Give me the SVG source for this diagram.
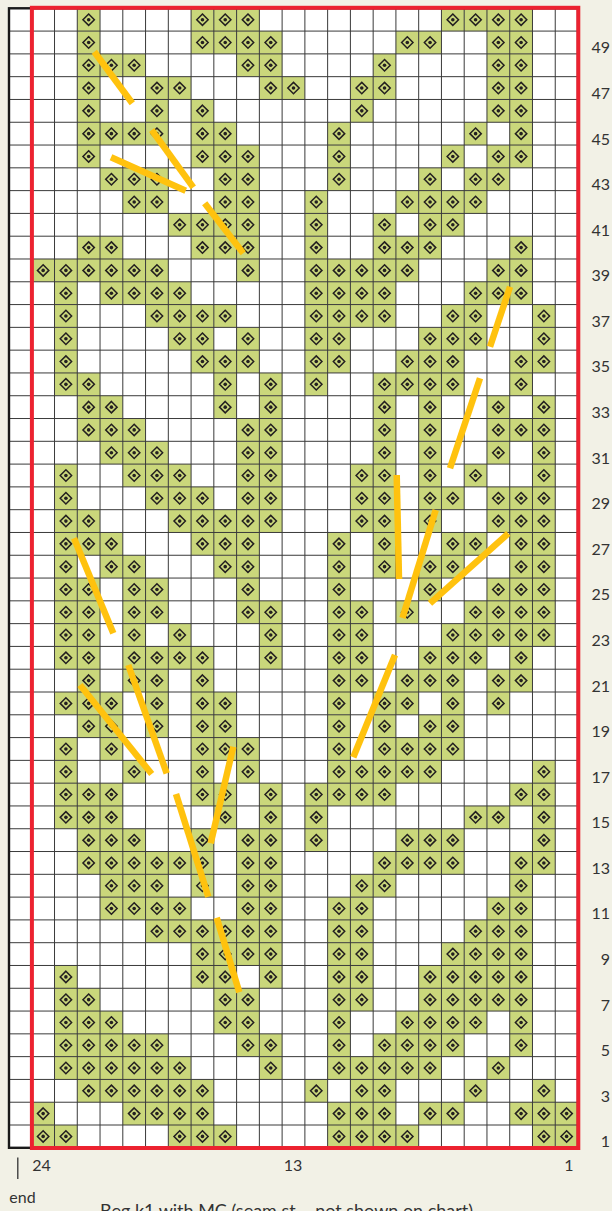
<svg xmlns="http://www.w3.org/2000/svg" width="612" height="1211" viewBox="0 0 612 1211">
<style>
.gl{stroke:#3a3a3a;stroke-width:1;fill:none}
.stem{stroke:#FFC20E;stroke-width:6.5;stroke-linecap:butt}
.lbl{font-family:Lato,"Liberation Sans",sans-serif;font-size:16px;fill:#333}
.r{text-anchor:end}
.c{text-anchor:middle}
</style>
<defs>
<g id="st">
<rect width="22.76" height="22.79" fill="#CAD77B"/>
<path d="M11.38 5.7L17.08 11.4L11.38 17.1L5.68 11.4Z" fill="none" stroke="#231F20" stroke-width="1.5"/>
<circle cx="11.38" cy="11.4" r="1.8" fill="#231F20"/>
</g>
</defs>
<rect width="612" height="1211" fill="#F2F1E6"/>
<rect x="9" y="8.3" width="569" height="1139.5" fill="#fff"/>
<g id="cells">
<g transform="translate(0 8.3)"><use href="#st" x="77.28"/><use href="#st" x="191.08"/><use href="#st" x="213.84"/><use href="#st" x="236.6"/><use href="#st" x="441.44"/><use href="#st" x="464.2"/><use href="#st" x="486.96"/><use href="#st" x="509.72"/></g>
<g transform="translate(0 31.09)"><use href="#st" x="77.28"/><use href="#st" x="191.08"/><use href="#st" x="213.84"/><use href="#st" x="236.6"/><use href="#st" x="259.36"/><use href="#st" x="395.92"/><use href="#st" x="418.68"/><use href="#st" x="486.96"/><use href="#st" x="509.72"/></g>
<g transform="translate(0 53.88)"><use href="#st" x="77.28"/><use href="#st" x="100.04"/><use href="#st" x="122.8"/><use href="#st" x="236.6"/><use href="#st" x="259.36"/><use href="#st" x="373.16"/><use href="#st" x="486.96"/><use href="#st" x="509.72"/></g>
<g transform="translate(0 76.67)"><use href="#st" x="77.28"/><use href="#st" x="145.56"/><use href="#st" x="168.32"/><use href="#st" x="259.36"/><use href="#st" x="282.12"/><use href="#st" x="350.4"/><use href="#st" x="373.16"/><use href="#st" x="486.96"/><use href="#st" x="509.72"/></g>
<g transform="translate(0 99.46)"><use href="#st" x="77.28"/><use href="#st" x="145.56"/><use href="#st" x="191.08"/><use href="#st" x="350.4"/><use href="#st" x="486.96"/><use href="#st" x="509.72"/></g>
<g transform="translate(0 122.25)"><use href="#st" x="77.28"/><use href="#st" x="100.04"/><use href="#st" x="122.8"/><use href="#st" x="145.56"/><use href="#st" x="191.08"/><use href="#st" x="213.84"/><use href="#st" x="327.64"/><use href="#st" x="464.2"/><use href="#st" x="509.72"/></g>
<g transform="translate(0 145.04)"><use href="#st" x="77.28"/><use href="#st" x="191.08"/><use href="#st" x="213.84"/><use href="#st" x="236.6"/><use href="#st" x="327.64"/><use href="#st" x="441.44"/><use href="#st" x="486.96"/><use href="#st" x="509.72"/></g>
<g transform="translate(0 167.83)"><use href="#st" x="100.04"/><use href="#st" x="122.8"/><use href="#st" x="145.56"/><use href="#st" x="213.84"/><use href="#st" x="236.6"/><use href="#st" x="327.64"/><use href="#st" x="418.68"/><use href="#st" x="464.2"/><use href="#st" x="486.96"/></g>
<g transform="translate(0 190.62)"><use href="#st" x="122.8"/><use href="#st" x="145.56"/><use href="#st" x="213.84"/><use href="#st" x="236.6"/><use href="#st" x="304.88"/><use href="#st" x="395.92"/><use href="#st" x="418.68"/><use href="#st" x="441.44"/><use href="#st" x="464.2"/></g>
<g transform="translate(0 213.41)"><use href="#st" x="168.32"/><use href="#st" x="191.08"/><use href="#st" x="213.84"/><use href="#st" x="236.6"/><use href="#st" x="304.88"/><use href="#st" x="373.16"/><use href="#st" x="418.68"/><use href="#st" x="441.44"/></g>
<g transform="translate(0 236.2)"><use href="#st" x="77.28"/><use href="#st" x="100.04"/><use href="#st" x="191.08"/><use href="#st" x="213.84"/><use href="#st" x="236.6"/><use href="#st" x="304.88"/><use href="#st" x="373.16"/><use href="#st" x="395.92"/><use href="#st" x="418.68"/><use href="#st" x="509.72"/></g>
<g transform="translate(0 258.99)"><use href="#st" x="31.76"/><use href="#st" x="54.52"/><use href="#st" x="77.28"/><use href="#st" x="100.04"/><use href="#st" x="122.8"/><use href="#st" x="145.56"/><use href="#st" x="236.6"/><use href="#st" x="304.88"/><use href="#st" x="327.64"/><use href="#st" x="350.4"/><use href="#st" x="373.16"/><use href="#st" x="395.92"/><use href="#st" x="486.96"/><use href="#st" x="509.72"/></g>
<g transform="translate(0 281.78)"><use href="#st" x="54.52"/><use href="#st" x="100.04"/><use href="#st" x="122.8"/><use href="#st" x="145.56"/><use href="#st" x="168.32"/><use href="#st" x="304.88"/><use href="#st" x="327.64"/><use href="#st" x="350.4"/><use href="#st" x="373.16"/><use href="#st" x="464.2"/><use href="#st" x="486.96"/><use href="#st" x="509.72"/></g>
<g transform="translate(0 304.57)"><use href="#st" x="54.52"/><use href="#st" x="145.56"/><use href="#st" x="168.32"/><use href="#st" x="191.08"/><use href="#st" x="213.84"/><use href="#st" x="304.88"/><use href="#st" x="327.64"/><use href="#st" x="350.4"/><use href="#st" x="373.16"/><use href="#st" x="441.44"/><use href="#st" x="464.2"/><use href="#st" x="532.48"/></g>
<g transform="translate(0 327.36)"><use href="#st" x="54.52"/><use href="#st" x="168.32"/><use href="#st" x="191.08"/><use href="#st" x="236.6"/><use href="#st" x="304.88"/><use href="#st" x="327.64"/><use href="#st" x="418.68"/><use href="#st" x="441.44"/><use href="#st" x="464.2"/><use href="#st" x="532.48"/></g>
<g transform="translate(0 350.15)"><use href="#st" x="54.52"/><use href="#st" x="191.08"/><use href="#st" x="213.84"/><use href="#st" x="236.6"/><use href="#st" x="304.88"/><use href="#st" x="327.64"/><use href="#st" x="395.92"/><use href="#st" x="418.68"/><use href="#st" x="441.44"/><use href="#st" x="509.72"/><use href="#st" x="532.48"/></g>
<g transform="translate(0 372.94)"><use href="#st" x="54.52"/><use href="#st" x="77.28"/><use href="#st" x="213.84"/><use href="#st" x="259.36"/><use href="#st" x="304.88"/><use href="#st" x="373.16"/><use href="#st" x="395.92"/><use href="#st" x="418.68"/><use href="#st" x="441.44"/><use href="#st" x="509.72"/></g>
<g transform="translate(0 395.73)"><use href="#st" x="77.28"/><use href="#st" x="100.04"/><use href="#st" x="213.84"/><use href="#st" x="259.36"/><use href="#st" x="373.16"/><use href="#st" x="418.68"/><use href="#st" x="486.96"/><use href="#st" x="532.48"/></g>
<g transform="translate(0 418.52)"><use href="#st" x="77.28"/><use href="#st" x="100.04"/><use href="#st" x="122.8"/><use href="#st" x="236.6"/><use href="#st" x="259.36"/><use href="#st" x="373.16"/><use href="#st" x="418.68"/><use href="#st" x="486.96"/><use href="#st" x="509.72"/><use href="#st" x="532.48"/></g>
<g transform="translate(0 441.31)"><use href="#st" x="100.04"/><use href="#st" x="122.8"/><use href="#st" x="145.56"/><use href="#st" x="236.6"/><use href="#st" x="259.36"/><use href="#st" x="373.16"/><use href="#st" x="418.68"/><use href="#st" x="486.96"/><use href="#st" x="532.48"/></g>
<g transform="translate(0 464.1)"><use href="#st" x="54.52"/><use href="#st" x="122.8"/><use href="#st" x="145.56"/><use href="#st" x="168.32"/><use href="#st" x="236.6"/><use href="#st" x="259.36"/><use href="#st" x="350.4"/><use href="#st" x="373.16"/><use href="#st" x="418.68"/><use href="#st" x="464.2"/><use href="#st" x="532.48"/></g>
<g transform="translate(0 486.89)"><use href="#st" x="54.52"/><use href="#st" x="145.56"/><use href="#st" x="168.32"/><use href="#st" x="191.08"/><use href="#st" x="236.6"/><use href="#st" x="259.36"/><use href="#st" x="350.4"/><use href="#st" x="373.16"/><use href="#st" x="418.68"/><use href="#st" x="441.44"/><use href="#st" x="486.96"/><use href="#st" x="509.72"/><use href="#st" x="532.48"/></g>
<g transform="translate(0 509.68)"><use href="#st" x="54.52"/><use href="#st" x="77.28"/><use href="#st" x="168.32"/><use href="#st" x="191.08"/><use href="#st" x="213.84"/><use href="#st" x="236.6"/><use href="#st" x="259.36"/><use href="#st" x="350.4"/><use href="#st" x="373.16"/><use href="#st" x="418.68"/><use href="#st" x="486.96"/><use href="#st" x="509.72"/><use href="#st" x="532.48"/></g>
<g transform="translate(0 532.47)"><use href="#st" x="54.52"/><use href="#st" x="77.28"/><use href="#st" x="100.04"/><use href="#st" x="191.08"/><use href="#st" x="213.84"/><use href="#st" x="236.6"/><use href="#st" x="327.64"/><use href="#st" x="373.16"/><use href="#st" x="441.44"/><use href="#st" x="464.2"/><use href="#st" x="509.72"/><use href="#st" x="532.48"/></g>
<g transform="translate(0 555.26)"><use href="#st" x="54.52"/><use href="#st" x="100.04"/><use href="#st" x="122.8"/><use href="#st" x="213.84"/><use href="#st" x="236.6"/><use href="#st" x="327.64"/><use href="#st" x="373.16"/><use href="#st" x="418.68"/><use href="#st" x="441.44"/><use href="#st" x="509.72"/><use href="#st" x="532.48"/></g>
<g transform="translate(0 578.05)"><use href="#st" x="54.52"/><use href="#st" x="77.28"/><use href="#st" x="122.8"/><use href="#st" x="145.56"/><use href="#st" x="236.6"/><use href="#st" x="327.64"/><use href="#st" x="418.68"/><use href="#st" x="486.96"/><use href="#st" x="509.72"/><use href="#st" x="532.48"/></g>
<g transform="translate(0 600.84)"><use href="#st" x="54.52"/><use href="#st" x="77.28"/><use href="#st" x="122.8"/><use href="#st" x="145.56"/><use href="#st" x="236.6"/><use href="#st" x="259.36"/><use href="#st" x="327.64"/><use href="#st" x="350.4"/><use href="#st" x="395.92"/><use href="#st" x="464.2"/><use href="#st" x="486.96"/><use href="#st" x="509.72"/><use href="#st" x="532.48"/></g>
<g transform="translate(0 623.63)"><use href="#st" x="54.52"/><use href="#st" x="77.28"/><use href="#st" x="122.8"/><use href="#st" x="168.32"/><use href="#st" x="259.36"/><use href="#st" x="327.64"/><use href="#st" x="350.4"/><use href="#st" x="441.44"/><use href="#st" x="464.2"/><use href="#st" x="486.96"/><use href="#st" x="509.72"/><use href="#st" x="532.48"/></g>
<g transform="translate(0 646.42)"><use href="#st" x="54.52"/><use href="#st" x="77.28"/><use href="#st" x="122.8"/><use href="#st" x="145.56"/><use href="#st" x="168.32"/><use href="#st" x="191.08"/><use href="#st" x="259.36"/><use href="#st" x="327.64"/><use href="#st" x="350.4"/><use href="#st" x="418.68"/><use href="#st" x="441.44"/><use href="#st" x="464.2"/><use href="#st" x="509.72"/></g>
<g transform="translate(0 669.21)"><use href="#st" x="77.28"/><use href="#st" x="122.8"/><use href="#st" x="145.56"/><use href="#st" x="191.08"/><use href="#st" x="327.64"/><use href="#st" x="350.4"/><use href="#st" x="395.92"/><use href="#st" x="418.68"/><use href="#st" x="441.44"/><use href="#st" x="486.96"/><use href="#st" x="509.72"/></g>
<g transform="translate(0 692)"><use href="#st" x="54.52"/><use href="#st" x="77.28"/><use href="#st" x="100.04"/><use href="#st" x="145.56"/><use href="#st" x="191.08"/><use href="#st" x="213.84"/><use href="#st" x="327.64"/><use href="#st" x="373.16"/><use href="#st" x="395.92"/><use href="#st" x="441.44"/><use href="#st" x="486.96"/></g>
<g transform="translate(0 714.79)"><use href="#st" x="77.28"/><use href="#st" x="100.04"/><use href="#st" x="145.56"/><use href="#st" x="191.08"/><use href="#st" x="213.84"/><use href="#st" x="327.64"/><use href="#st" x="373.16"/><use href="#st" x="418.68"/><use href="#st" x="441.44"/></g>
<g transform="translate(0 737.58)"><use href="#st" x="54.52"/><use href="#st" x="100.04"/><use href="#st" x="191.08"/><use href="#st" x="213.84"/><use href="#st" x="236.6"/><use href="#st" x="327.64"/><use href="#st" x="373.16"/><use href="#st" x="395.92"/><use href="#st" x="418.68"/><use href="#st" x="441.44"/></g>
<g transform="translate(0 760.37)"><use href="#st" x="54.52"/><use href="#st" x="122.8"/><use href="#st" x="191.08"/><use href="#st" x="236.6"/><use href="#st" x="327.64"/><use href="#st" x="350.4"/><use href="#st" x="373.16"/><use href="#st" x="395.92"/><use href="#st" x="418.68"/><use href="#st" x="532.48"/></g>
<g transform="translate(0 783.16)"><use href="#st" x="54.52"/><use href="#st" x="77.28"/><use href="#st" x="100.04"/><use href="#st" x="191.08"/><use href="#st" x="213.84"/><use href="#st" x="259.36"/><use href="#st" x="304.88"/><use href="#st" x="327.64"/><use href="#st" x="350.4"/><use href="#st" x="373.16"/><use href="#st" x="509.72"/><use href="#st" x="532.48"/></g>
<g transform="translate(0 805.95)"><use href="#st" x="54.52"/><use href="#st" x="77.28"/><use href="#st" x="100.04"/><use href="#st" x="213.84"/><use href="#st" x="259.36"/><use href="#st" x="304.88"/><use href="#st" x="464.2"/><use href="#st" x="486.96"/><use href="#st" x="532.48"/></g>
<g transform="translate(0 828.74)"><use href="#st" x="77.28"/><use href="#st" x="100.04"/><use href="#st" x="122.8"/><use href="#st" x="191.08"/><use href="#st" x="236.6"/><use href="#st" x="259.36"/><use href="#st" x="304.88"/><use href="#st" x="395.92"/><use href="#st" x="418.68"/><use href="#st" x="441.44"/><use href="#st" x="532.48"/></g>
<g transform="translate(0 851.53)"><use href="#st" x="77.28"/><use href="#st" x="100.04"/><use href="#st" x="122.8"/><use href="#st" x="145.56"/><use href="#st" x="168.32"/><use href="#st" x="191.08"/><use href="#st" x="236.6"/><use href="#st" x="259.36"/><use href="#st" x="373.16"/><use href="#st" x="395.92"/><use href="#st" x="418.68"/><use href="#st" x="441.44"/><use href="#st" x="509.72"/><use href="#st" x="532.48"/></g>
<g transform="translate(0 874.32)"><use href="#st" x="100.04"/><use href="#st" x="122.8"/><use href="#st" x="145.56"/><use href="#st" x="191.08"/><use href="#st" x="236.6"/><use href="#st" x="259.36"/><use href="#st" x="350.4"/><use href="#st" x="373.16"/><use href="#st" x="509.72"/></g>
<g transform="translate(0 897.11)"><use href="#st" x="100.04"/><use href="#st" x="122.8"/><use href="#st" x="145.56"/><use href="#st" x="168.32"/><use href="#st" x="236.6"/><use href="#st" x="259.36"/><use href="#st" x="327.64"/><use href="#st" x="350.4"/><use href="#st" x="486.96"/><use href="#st" x="509.72"/></g>
<g transform="translate(0 919.9)"><use href="#st" x="145.56"/><use href="#st" x="168.32"/><use href="#st" x="191.08"/><use href="#st" x="213.84"/><use href="#st" x="236.6"/><use href="#st" x="259.36"/><use href="#st" x="327.64"/><use href="#st" x="350.4"/><use href="#st" x="464.2"/><use href="#st" x="486.96"/><use href="#st" x="509.72"/></g>
<g transform="translate(0 942.69)"><use href="#st" x="191.08"/><use href="#st" x="213.84"/><use href="#st" x="236.6"/><use href="#st" x="259.36"/><use href="#st" x="327.64"/><use href="#st" x="350.4"/><use href="#st" x="441.44"/><use href="#st" x="464.2"/><use href="#st" x="486.96"/><use href="#st" x="509.72"/></g>
<g transform="translate(0 965.48)"><use href="#st" x="54.52"/><use href="#st" x="191.08"/><use href="#st" x="213.84"/><use href="#st" x="259.36"/><use href="#st" x="327.64"/><use href="#st" x="350.4"/><use href="#st" x="418.68"/><use href="#st" x="441.44"/><use href="#st" x="464.2"/><use href="#st" x="486.96"/><use href="#st" x="509.72"/></g>
<g transform="translate(0 988.27)"><use href="#st" x="54.52"/><use href="#st" x="77.28"/><use href="#st" x="213.84"/><use href="#st" x="236.6"/><use href="#st" x="327.64"/><use href="#st" x="350.4"/><use href="#st" x="418.68"/><use href="#st" x="441.44"/><use href="#st" x="464.2"/><use href="#st" x="486.96"/><use href="#st" x="509.72"/></g>
<g transform="translate(0 1011.06)"><use href="#st" x="54.52"/><use href="#st" x="77.28"/><use href="#st" x="100.04"/><use href="#st" x="213.84"/><use href="#st" x="236.6"/><use href="#st" x="327.64"/><use href="#st" x="395.92"/><use href="#st" x="418.68"/><use href="#st" x="441.44"/><use href="#st" x="464.2"/><use href="#st" x="509.72"/></g>
<g transform="translate(0 1033.85)"><use href="#st" x="54.52"/><use href="#st" x="77.28"/><use href="#st" x="100.04"/><use href="#st" x="122.8"/><use href="#st" x="145.56"/><use href="#st" x="236.6"/><use href="#st" x="259.36"/><use href="#st" x="327.64"/><use href="#st" x="373.16"/><use href="#st" x="395.92"/><use href="#st" x="418.68"/><use href="#st" x="441.44"/><use href="#st" x="509.72"/></g>
<g transform="translate(0 1056.64)"><use href="#st" x="54.52"/><use href="#st" x="77.28"/><use href="#st" x="100.04"/><use href="#st" x="122.8"/><use href="#st" x="145.56"/><use href="#st" x="168.32"/><use href="#st" x="259.36"/><use href="#st" x="327.64"/><use href="#st" x="350.4"/><use href="#st" x="373.16"/><use href="#st" x="395.92"/><use href="#st" x="418.68"/><use href="#st" x="486.96"/></g>
<g transform="translate(0 1079.43)"><use href="#st" x="77.28"/><use href="#st" x="100.04"/><use href="#st" x="122.8"/><use href="#st" x="145.56"/><use href="#st" x="168.32"/><use href="#st" x="191.08"/><use href="#st" x="304.88"/><use href="#st" x="350.4"/><use href="#st" x="373.16"/><use href="#st" x="464.2"/><use href="#st" x="532.48"/></g>
<g transform="translate(0 1102.22)"><use href="#st" x="31.76"/><use href="#st" x="122.8"/><use href="#st" x="145.56"/><use href="#st" x="168.32"/><use href="#st" x="191.08"/><use href="#st" x="327.64"/><use href="#st" x="350.4"/><use href="#st" x="373.16"/><use href="#st" x="418.68"/><use href="#st" x="441.44"/><use href="#st" x="509.72"/><use href="#st" x="532.48"/><use href="#st" x="555.24"/></g>
<g transform="translate(0 1125.01)"><use href="#st" x="31.76"/><use href="#st" x="54.52"/><use href="#st" x="168.32"/><use href="#st" x="191.08"/><use href="#st" x="213.84"/><use href="#st" x="327.64"/><use href="#st" x="350.4"/><use href="#st" x="373.16"/><use href="#st" x="395.92"/><use href="#st" x="532.48"/><use href="#st" x="555.24"/></g>
</g>
<g id="grid">
<path class="gl" d="M9 8.3V1147.8M31.76 8.3V1147.8M54.52 8.3V1147.8M77.28 8.3V1147.8M100.04 8.3V1147.8M122.8 8.3V1147.8M145.56 8.3V1147.8M168.32 8.3V1147.8M191.08 8.3V1147.8M213.84 8.3V1147.8M236.6 8.3V1147.8M259.36 8.3V1147.8M282.12 8.3V1147.8M304.88 8.3V1147.8M327.64 8.3V1147.8M350.4 8.3V1147.8M373.16 8.3V1147.8M395.92 8.3V1147.8M418.68 8.3V1147.8M441.44 8.3V1147.8M464.2 8.3V1147.8M486.96 8.3V1147.8M509.72 8.3V1147.8M532.48 8.3V1147.8M555.24 8.3V1147.8M578 8.3V1147.8"/>
<path class="gl" d="M9 8.3H578M9 31.09H578M9 53.88H578M9 76.67H578M9 99.46H578M9 122.25H578M9 145.04H578M9 167.83H578M9 190.62H578M9 213.41H578M9 236.2H578M9 258.99H578M9 281.78H578M9 304.57H578M9 327.36H578M9 350.15H578M9 372.94H578M9 395.73H578M9 418.52H578M9 441.31H578M9 464.1H578M9 486.89H578M9 509.68H578M9 532.47H578M9 555.26H578M9 578.05H578M9 600.84H578M9 623.63H578M9 646.42H578M9 669.21H578M9 692H578M9 714.79H578M9 737.58H578M9 760.37H578M9 783.16H578M9 805.95H578M9 828.74H578M9 851.53H578M9 874.32H578M9 897.11H578M9 919.9H578M9 942.69H578M9 965.48H578M9 988.27H578M9 1011.06H578M9 1033.85H578M9 1056.64H578M9 1079.43H578M9 1102.22H578M9 1125.01H578M9 1147.8H578"/>
</g>
<g id="frame">
<rect x="9" y="8.3" width="569" height="1139.5" fill="none" stroke="#1a1a1a" stroke-width="2.4"/>
<rect x="31.9" y="7.8" width="546.4" height="1140.2" fill="none" stroke="#EC2230" stroke-width="4"/>
</g>
<g id="stems">
<line class="stem" x1="94.3" y1="51.7" x2="132.3" y2="103.3"/>
<line class="stem" x1="151.7" y1="130" x2="193.3" y2="187.3"/>
<line class="stem" x1="111" y1="157.3" x2="185.7" y2="190.7"/>
<line class="stem" x1="204.7" y1="203.3" x2="243.3" y2="253.3"/>
<line class="stem" x1="510" y1="286.7" x2="490" y2="346.7"/>
<line class="stem" x1="480" y1="378.3" x2="450" y2="468.3"/>
<line class="stem" x1="396.7" y1="475" x2="399" y2="579"/>
<line class="stem" x1="435.7" y1="510" x2="402.5" y2="618"/>
<line class="stem" x1="508.3" y1="533.3" x2="430" y2="603.3"/>
<line class="stem" x1="395" y1="655" x2="353.3" y2="757.3"/>
<line class="stem" x1="74" y1="538.3" x2="113.3" y2="633.3"/>
<line class="stem" x1="80" y1="685" x2="151.7" y2="774"/>
<line class="stem" x1="128.3" y1="665" x2="166.7" y2="773.3"/>
<line class="stem" x1="233.3" y1="746.7" x2="210.7" y2="843.3"/>
<line class="stem" x1="176" y1="794" x2="208.3" y2="896.7"/>
<line class="stem" x1="216.7" y1="917.7" x2="239.3" y2="992.3"/>
</g>
<g id="row-labels" class="lbl r">
<text x="610" y="53.4">49</text>
<text x="610" y="99">47</text>
<text x="610" y="144.5">45</text>
<text x="610" y="190.1">43</text>
<text x="610" y="235.7">41</text>
<text x="610" y="281.3">39</text>
<text x="610" y="326.9">37</text>
<text x="610" y="372.4">35</text>
<text x="610" y="418">33</text>
<text x="610" y="463.6">31</text>
<text x="610" y="509.2">29</text>
<text x="610" y="554.8">27</text>
<text x="610" y="600.3">25</text>
<text x="610" y="645.9">23</text>
<text x="610" y="691.5">21</text>
<text x="610" y="737.1">19</text>
<text x="610" y="782.7">17</text>
<text x="610" y="828.2">15</text>
<text x="610" y="873.8">13</text>
<text x="610" y="919.4">11</text>
<text x="610" y="965">9</text>
<text x="610" y="1010.6">7</text>
<text x="610" y="1056.1">5</text>
<text x="610" y="1101.7">3</text>
<text x="610" y="1147.3">1</text>
</g>
<g id="col-labels" class="lbl c">
<text x="41.5" y="1171">24</text>
<text x="293" y="1171">13</text>
<text x="569" y="1171">1</text>
</g>
<line x1="17.8" y1="1157.5" x2="17.8" y2="1179" stroke="#333" stroke-width="1.3"/>
<text class="lbl" x="9.3" y="1203">end</text>
<text class="lbl" x="100" y="1216.5" style="font-size:17.5px" textLength="373" lengthAdjust="spacingAndGlyphs">Beg k1 with MC (seam st – not shown on chart)</text>
</svg>
